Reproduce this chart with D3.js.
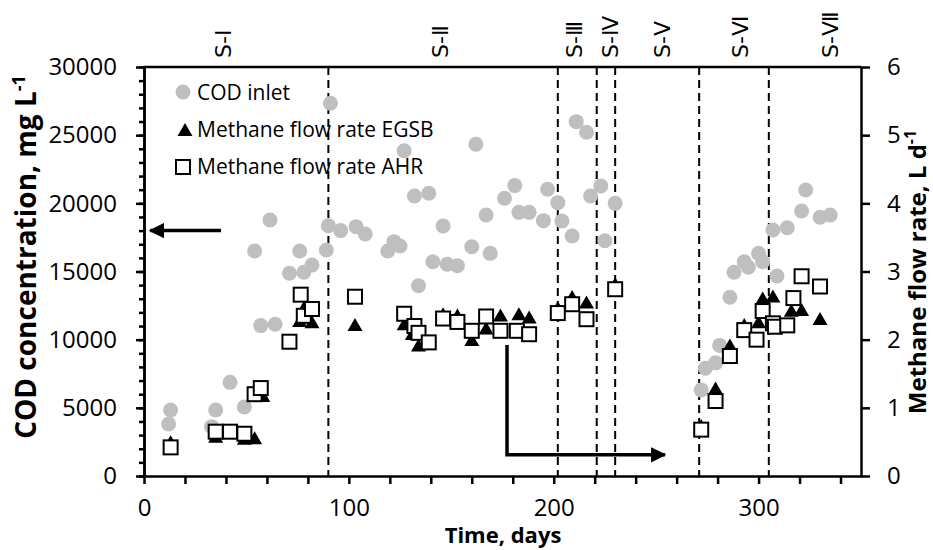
<!DOCTYPE html>
<html>
<head>
<meta charset="utf-8">
<script src="https://cdn.jsdelivr.net/npm/d3@7"></script>
<style>
  body { margin: 0; background: #fff; }
  svg { display: block; font-family: "Open Sans", sans-serif; }
</style>
</head>
<body>
<svg id="chart" width="933" height="550"></svg>
<script>
// COD inlet, mg/L  [day, value]
const codInlet = [
  [12, 3810], [13, 4840], [33, 3620], [35, 4840], [42, 6870], [49, 5060],
  [54, 16500], [57, 11030], [61.5, 18780], [64, 11130], [71, 14870], [76, 16500],
  [78, 14940], [82, 15480], [89, 16580], [90, 18360], [91, 27340], [96, 18000],
  [103.5, 18290], [108, 17750], [119, 16500], [122, 17190], [125, 16870], [127, 23860],
  [132, 20540], [134, 13960], [139, 20740], [141, 15720], [146, 18340], [148, 15530],
  [153, 15420], [160, 16820], [162, 24330], [167, 19140], [169, 16330], [176, 20370],
  [181, 21300], [183, 19340], [188, 19340], [195, 18730], [197, 21030], [202, 20050],
  [204, 18700], [209, 17600], [211, 25990], [216, 25210], [218, 20540], [223, 21270],
  [225, 17260], [230, 20000], [272, 6310], [274, 7900], [279, 8300], [281, 9580],
  [286, 13110], [288, 14940], [293, 15720], [295, 15310], [300, 16330], [302, 15720],
  [307, 18040], [309, 14670], [314, 18210], [321, 19440], [323, 20980], [330, 18980],
  [335, 19140]
];

// Methane flow rate EGSB, L/d
const methaneEgsb = [
  [13, 0.48], [35, 0.56], [49, 0.53], [54, 0.54], [58, 1.16], [76, 2.26],
  [79, 2.5], [82, 2.24], [103, 2.2], [127, 2.21], [131, 2.07], [134, 1.9],
  [137, 1.93], [146, 2.36], [153, 2.34], [160, 1.98], [167, 2.15], [174, 2.34],
  [183, 2.36], [188, 2.31], [202, 2.45], [209, 2.61], [216, 2.53], [230, 2.8],
  [272, 0.72], [279, 1.27], [286, 1.9], [293, 2.2], [300, 2.24], [302, 2.59],
  [307, 2.62], [316, 2.41], [321, 2.42], [330, 2.29]
];

// Methane flow rate AHR, L/d
const methaneAhr = [
  [13, 0.42], [35, 0.65], [42, 0.65], [49, 0.62], [54, 1.2], [57, 1.29],
  [71, 1.97], [76.5, 2.66], [78, 2.35], [82, 2.45], [103, 2.63], [127, 2.38],
  [132, 2.2], [134, 2.1], [139, 1.96], [146, 2.31], [153, 2.26], [160, 2.13],
  [167, 2.34], [174, 2.13], [182, 2.13], [188, 2.08], [202, 2.39], [209, 2.52],
  [216, 2.3], [230, 2.74], [272, 0.68], [279, 1.1], [286, 1.76], [293, 2.14],
  [299, 2.0], [302, 2.42], [307, 2.24], [308, 2.19], [314, 2.21], [317, 2.61],
  [321, 2.93], [330, 2.78]
];

const stageBounds = [90, 202, 221, 230, 271, 305];
const stageNames = ["S-Ⅰ", "S-Ⅱ", "S-Ⅲ", "S-Ⅳ", "S-Ⅴ", "S-Ⅵ", "S-Ⅶ"];
const stageLabelDays = [38.5, 144.5, 210, 227.5, 253, 291, 335];

const xTicks = d3.range(0, 341, 20);
const codTicks = d3.range(0, 30001, 5000);
const codMinorTicks = d3.range(0, 30001, 1000);
const flowTicks = d3.range(0, 7, 1);

const svg = d3.select("#chart");
const margin = { top: 67, right: 72, bottom: 74, left: 144 };
const width = 933 - margin.left - margin.right;
const height = 550 - margin.top - margin.bottom;

const x = d3.scaleLinear().domain([0, 350]).range([0, width]);
const yCod = d3.scaleLinear().domain([0, 30000]).range([height, 0]);
const yFlow = d3.scaleLinear().domain([0, 6]).range([height, 0]);

const g = svg.append("g").attr("transform", `translate(${margin.left},${margin.top})`);

// stage boundaries
g.selectAll(".stage")
  .data(stageBounds)
  .enter()
  .append("line")
  .attr("x1", d => x(d)).attr("x2", d => x(d))
  .attr("y1", 0).attr("y2", height)
  .attr("stroke", "#000")
  .attr("stroke-width", 2)
  .attr("stroke-dasharray", "8,5");

// stage labels above plot
g.selectAll(".stageLabel")
  .data(stageNames)
  .enter()
  .append("text")
  .attr("transform", (d, i) => `translate(${x(stageLabelDays[i]) + 8},-9) rotate(-90)`)
  .attr("font-size", 22)
  .attr("font-family", "'DejaVu Sans', sans-serif")
  .text(d => d);

// axes
function styleAxis(sel) {
  sel.select(".domain").attr("stroke-width", 2.5);
  sel.selectAll(".tick line").attr("stroke-width", 2.5);
  sel.selectAll("text").attr("font-size", 24).attr("fill", "#000").attr("font-family", "'Open Sans', sans-serif");
}

g.append("g")
  .call(d3.axisLeft(yCod).tickValues(codMinorTicks).tickSize(5).tickFormat("").tickSizeOuter(0))
  .call(styleAxis);
g.append("g")
  .call(d3.axisLeft(yCod).tickValues(codTicks).tickSize(8).tickPadding(19).tickSizeOuter(0)
    .tickFormat(d3.format("d")))
  .call(styleAxis);

g.append("g")
  .attr("transform", `translate(${width},0)`)
  .call(d3.axisRight(yFlow).tickValues(flowTicks).tickSize(9).tickPadding(17).tickSizeOuter(0)
    .tickFormat(d3.format("d")))
  .call(styleAxis);

g.append("g")
  .attr("transform", `translate(0,${height})`)
  .call(d3.axisBottom(x).tickValues(xTicks).tickSize(8).tickPadding(15).tickSizeOuter(0)
    .tickFormat(d => d % 100 === 0 ? d : ""))
  .call(styleAxis);

g.append("line")
  .attr("x1", 0).attr("x2", width).attr("y1", 0).attr("y2", 0)
  .attr("stroke", "#000").attr("stroke-width", 2.5);

// axis titles
svg.append("text")
  .attr("x", 503).attr("y", 543)
  .attr("text-anchor", "middle")
  .attr("font-size", 22).attr("font-weight", "bold")
  .text("Time, days");

const leftTitle = svg.append("text")
  .attr("transform", "translate(36,257) rotate(-90)")
  .attr("text-anchor", "middle")
  .attr("font-size", 28).attr("font-weight", "bold");
leftTitle.append("tspan").text("COD concentration, mg L");
leftTitle.append("tspan").attr("dy", -11).attr("font-size", 18).text("-1");

const rightTitle = svg.append("text")
  .attr("transform", "translate(926,272) rotate(-90)")
  .attr("text-anchor", "middle")
  .attr("font-size", 24).attr("font-weight", "bold");
rightTitle.append("tspan").text("Methane flow rate, L d");
rightTitle.append("tspan").attr("dy", -10).attr("font-size", 16).text("-1");

// arrows
svg.append("defs").append("marker")
  .attr("id", "head")
  .attr("viewBox", "0 0 10 10")
  .attr("refX", 9).attr("refY", 5)
  .attr("markerWidth", 4.4).attr("markerHeight", 4.6)
  .attr("markerUnits", "strokeWidth")
  .attr("orient", "auto")
  .append("path")
  .attr("d", "M0,0L10,5L0,10Z")
  .attr("fill", "#000");

g.append("path")
  .attr("d", d3.line()([[x(37.6), yCod(18000)], [x(3), yCod(18000)]]))
  .attr("stroke", "#000").attr("stroke-width", 3.5).attr("fill", "none")
  .attr("marker-end", "url(#head)");

g.append("path")
  .attr("d", d3.line()([[x(177.2), yFlow(1.92)], [x(177.2), yFlow(0.31)], [x(254.3), yFlow(0.31)]]))
  .attr("stroke", "#000").attr("stroke-width", 3.5).attr("fill", "none")
  .attr("marker-end", "url(#head)");

// data marks
const tri = "M0,-8L7.5,5L-7.5,5Z";

g.selectAll(".cod")
  .data(codInlet)
  .enter()
  .append("circle")
  .attr("cx", d => x(d[0]))
  .attr("cy", d => yCod(d[1]))
  .attr("r", 7.5)
  .attr("fill", "#bfbfbf");

g.selectAll(".egsb")
  .data(methaneEgsb)
  .enter()
  .append("path")
  .attr("d", tri)
  .attr("transform", d => `translate(${x(d[0])},${yFlow(d[1])})`)
  .attr("fill", "#000");

g.selectAll(".ahr")
  .data(methaneAhr)
  .enter()
  .append("rect")
  .attr("x", d => x(d[0]) - 7)
  .attr("y", d => yFlow(d[1]) - 7)
  .attr("width", 14).attr("height", 14)
  .attr("fill", "#fff")
  .attr("stroke", "#000")
  .attr("stroke-width", 2);

// legend
const legend = svg.append("g").attr("font-size", 21);
legend.append("circle").attr("cx", 183).attr("cy", 92).attr("r", 7.5).attr("fill", "#bfbfbf");
legend.append("text").attr("x", 197).attr("y", 100).text("COD inlet");
legend.append("path").attr("d", tri).attr("transform", "translate(185,131)").attr("fill", "#000");
legend.append("text").attr("x", 197).attr("y", 137).text("Methane flow rate EGSB");
legend.append("rect").attr("x", 176).attr("y", 160).attr("width", 14).attr("height", 14)
  .attr("fill", "#fff").attr("stroke", "#000").attr("stroke-width", 2);
legend.append("text").attr("x", 197).attr("y", 174).text("Methane flow rate AHR");
</script>
</body>
</html>
